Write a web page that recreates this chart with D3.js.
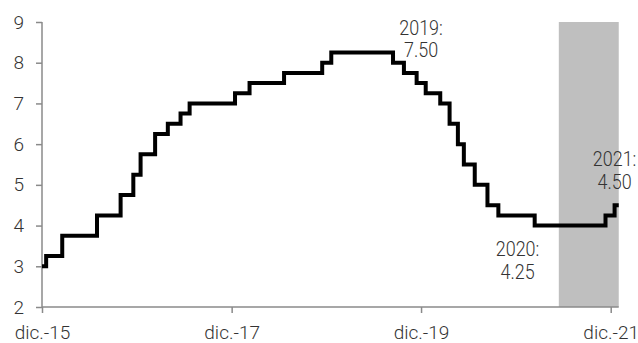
<!DOCTYPE html>
<html>
<head>
<meta charset="utf-8">
<script src="https://cdn.jsdelivr.net/npm/d3@7"></script>
<style>
  html, body { margin: 0; padding: 0; background: #fff; }
  svg { display: block; }
  text { font-family: Roboto, "Liberation Sans", sans-serif; font-weight: 300; fill: #333; }
</style>
</head>
<body>
<svg id="chart" width="638" height="343"></svg>
<script>
// Banxico target rate (step dates) and values
const dates = ["2015-12-01","2015-12-17","2016-02-17","2016-06-30","2016-09-29","2016-11-17","2016-12-15",
  "2017-02-09","2017-03-30","2017-05-18","2017-06-22","2017-12-14","2018-02-08","2018-06-21","2018-11-15",
  "2018-12-20","2019-08-15","2019-09-26","2019-11-14","2019-12-19","2020-02-13","2020-03-20","2020-04-21",
  "2020-05-14","2020-06-25","2020-08-13","2020-09-24","2021-02-11","2021-11-11","2021-12-16","2022-01-01"];
const rates = [3.00,3.25,3.75,4.25,4.75,5.25,5.75,
  6.25,6.50,6.75,7.00,7.25,7.50,7.75,8.00,
  8.25,8.00,7.75,7.50,7.25,7.00,6.50,6.00,
  5.50,5.00,4.50,4.25,4.00,4.25,4.50,4.50];
const xTickDates = ["2015-12-01","2017-12-01","2019-12-01","2021-12-01"];
const xTickLabels = ["dic.-15","dic.-17","dic.-19","dic.-21"];
const yTicks = [2,3,4,5,6,7,8,9];
const shadeRange = ["2021-05-15","2022-01-01"];
const annotationDates = ["2019-12-01","2020-12-07","2021-12-16"];
const annotationTexts = [["2019:","7.50"],["2020:","4.25"],["2021:","4.50"]];

// layout (positions of annotation baselines, px)
const annotationBaselines = [34.5, 256, 166];

const parse = d3.utcParse("%Y-%m-%d");
const data = dates.map((d,i)=>({date:parse(d), value:rates[i]}));

const svg = d3.select("#chart");
const x = d3.scaleUtc().domain([parse("2015-12-01"), parse("2021-12-01")]).range([42, 610.7]);
const y = d3.scaleLinear().domain([2,9]).range([307,22]);
const xEnd = x(parse("2022-01-01"));

// shaded region
svg.append("rect")
  .attr("x", x(parse(shadeRange[0])))
  .attr("y", y(9))
  .attr("width", x(parse(shadeRange[1])) - x(parse(shadeRange[0])))
  .attr("height", y(2) - y(9))
  .attr("fill", "#bfbfbf");

// axes
const axisColor = "#8a8a8a";
const yAxis = svg.append("g").attr("transform","translate(42,0)")
  .call(d3.axisLeft(y).tickValues(yTicks).tickSize(6).tickPadding(12).tickFormat(d3.format("d")));
const xAxis = svg.append("g").attr("transform","translate(0,307)")
  .call(d3.axisBottom(x).tickValues(xTickDates.map(parse)).tickSize(6).tickPadding(12.5)
    .tickFormat((d,i)=>xTickLabels[i]));
xAxis.select(".domain").attr("d", `M42,0H${xEnd}`);
yAxis.select(".domain").attr("d", "M0,307V22");
[xAxis, yAxis].forEach(a=>{
  a.selectAll(".domain").attr("stroke", axisColor).attr("stroke-width", 1.5);
  a.selectAll(".tick line").attr("stroke", axisColor).attr("stroke-width", 1.5);
  a.selectAll(".tick text").style("font-size","19px").attr("fill","#333");
});

// step line
const line = d3.line().x(d=>x(d.date)).y(d=>y(d.value)).curve(d3.curveStepAfter);
svg.append("path").datum(data)
  .attr("d", line)
  .attr("fill","none")
  .attr("stroke","#000")
  .attr("stroke-width",4)
  .attr("stroke-linejoin","miter");

// annotations (condensed light text, one text element per label)
const ann = svg.append("g");
annotationTexts.forEach((lines,k)=>{
  const cx = x(parse(annotationDates[k]));
  const t = ann.append("text")
    .attr("transform", `translate(${cx},${annotationBaselines[k]}) scale(0.92,1)`)
    .attr("text-anchor","middle")
    .style("font-size","19.5px");
  lines.forEach((l,i)=>{
    t.append("tspan").attr("x",0).attr("y", i*23).text(l);
  });
});
</script>
</body>
</html>
